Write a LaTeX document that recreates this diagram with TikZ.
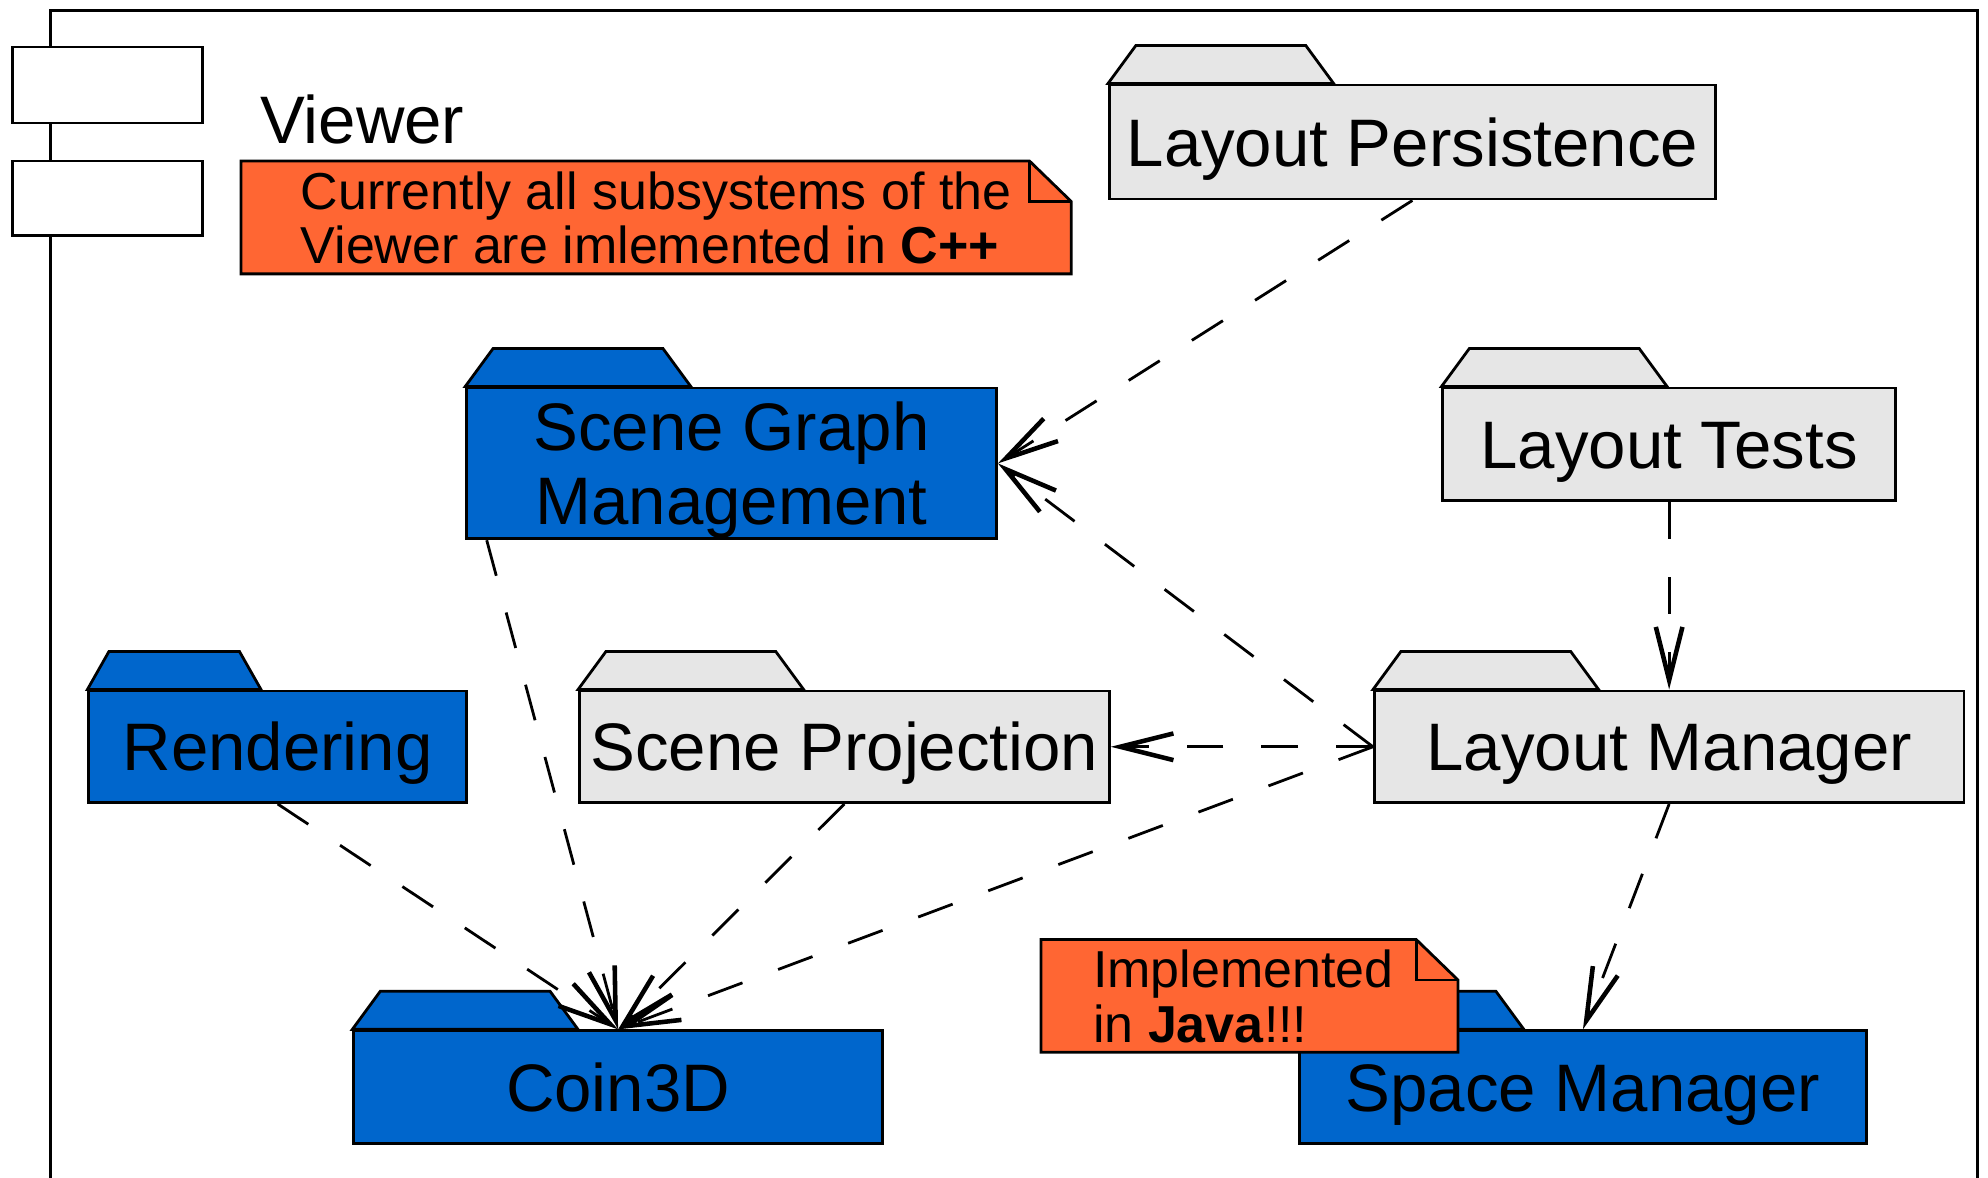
\documentclass[tikz,border=0pt]{standalone}
\usepackage{fontspec}
\setmainfont{Liberation Sans}
\usetikzlibrary{arrows.meta}
\definecolor{pkgblue}{RGB}{0,102,204}
\definecolor{pkggray}{RGB}{230,230,230}
\definecolor{noteorange}{RGB}{255,102,51}
\tikzset{
	pkg/.style={draw, line width=2.2pt, rectangle, inner sep=0pt, align=center,
		text height=38pt, text depth=0pt, font=\fontsize{53}{58}\selectfont},
	pkgline/.style={draw, line width=2.2pt, line join=miter},
	notetext/.style={inner sep=0pt, align=left, font=\fontsize{41}{43}\selectfont},
	dep/.style={line width=2.2pt, dash pattern=on 29pt off 30pt,
		-{Straight Barb[length=42pt,width=21pt,line width=3.6pt]}}
}

\begin{document}
\begin{tikzpicture}[x=1pt, y=-1pt]
		\useasboundingbox (0,0) rectangle (1568,929);
		% subsystem frame
		\draw[line width=2.4pt] (40,935) -- (40,8) -- (1560,8) -- (1560,935);
		\draw[pkgline, fill=white] (10,37) rectangle (160,97);
		\draw[pkgline, fill=white] (10,127) rectangle (160,186);
		\node[anchor=base west, inner sep=0pt, font=\fontsize{53}{58}\selectfont] (viewer) at (205,113) {Viewer};
		\draw[pkgline, fill=noteorange] (190,127) -- (812,127) -- (845,159) -- (845,216) -- (190,216) -- cycle;
		\draw[pkgline] (812,127) -- (812,159) -- (845,159);
		\node[notetext, anchor=west] (cppnote) at (237,172) {Currently all subsystems of the\\Viewer are imlemented in \textbf{C++}};

		\node[pkg, fill=pkggray, minimum width=478pt, minimum height=90pt] (lpers) at (1114,112) {Layout Persistence};
		\node[pkg, fill=pkgblue, minimum width=418pt, minimum height=119pt, text height=96pt] (sgm) at (577,365.5) {Scene Graph\\Management};
		\node[pkg, fill=pkggray, minimum width=357pt, minimum height=89pt] (ltests) at (1316.5,350.5) {Layout Tests};
		\node[pkg, fill=pkgblue, minimum width=298pt, minimum height=88pt] (rend) at (219,589) {Rendering};
		\node[pkg, fill=pkggray, minimum width=418pt, minimum height=88pt] (sproj) at (666,589) {Scene Projection};
		\node[pkg, fill=pkggray, minimum width=465pt, minimum height=88pt] (lman) at (1316.5,589) {Layout Manager};
		\node[pkg, fill=pkgblue, minimum width=417pt, minimum height=89pt] (coin) at (487.5,857.5) {Coin3D};
		\node[pkg, fill=pkgblue, minimum width=447pt, minimum height=89pt] (sman) at (1248.5,857.5) {Space Manager};

		\foreach \n/\w/\l/\c in {lpers/178/22/pkggray, sgm/178/22/pkgblue, ltests/178/22/pkggray,
			rend/137/17/pkgblue, sproj/178/22/pkggray, lman/178/22/pkggray, coin/178/22/pkgblue, sman/178/22/pkgblue}
		\draw[pkgline, fill=\c] (\n.north west) -- ++(\l,-30) -- ++({\w-2*\l},0) -- ([xshift=\w pt]\n.north west) -- cycle;

		\draw[dep] (lpers.south) -- (sgm.east);
		\draw[dep] (lman.west) -- (sgm.east);
		\draw[dep] (ltests.south) -- (lman.north);
		\draw[dep] (lman.west) -- (sproj.east);
		\draw[dep] (rend.south) -- (coin.north);
		\draw[dep] ([xshift=17pt]sgm.south west) -- (coin.north);
		\draw[dep] (sproj.south) -- (coin.north);
		\draw[dep] (lman.west) -- (coin.north);
		\draw[dep] (lman.south) -- (sman.north);

		\draw[pkgline, fill=noteorange] (821,741) -- (1117,741) -- (1150,773) -- (1150,830) -- (821,830) -- cycle;
		\draw[pkgline] (1117,741) -- (1117,773) -- (1150,773);
		\node[notetext, anchor=west] (javanote) at (862,786) {Implemented\\in \textbf{Java}!!!};
		\end{tikzpicture}
\end{document}
